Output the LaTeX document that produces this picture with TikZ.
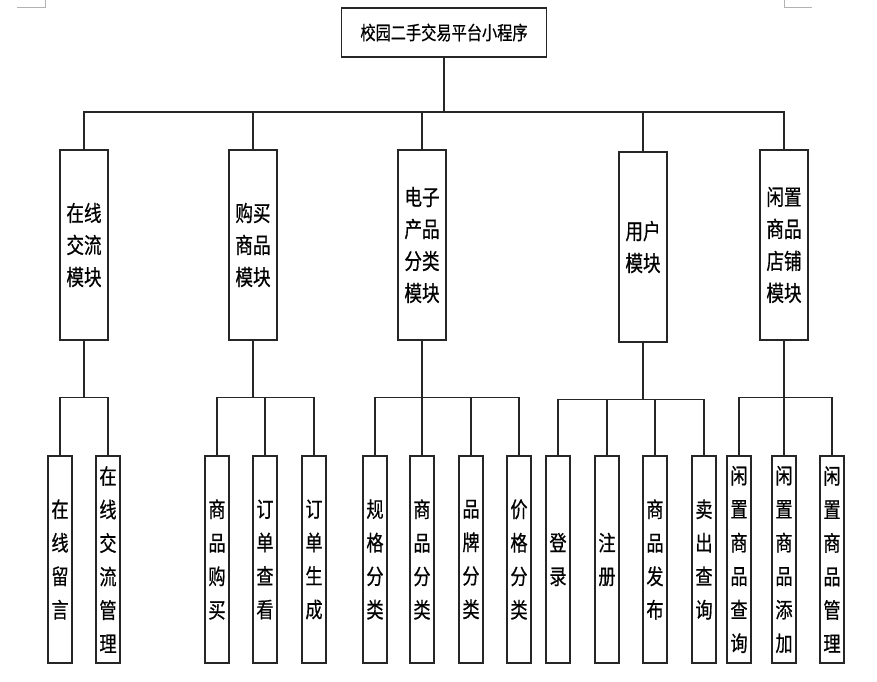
\documentclass[tikz,border=0pt]{standalone}
\usepackage{fontspec}
\newfontfamily\cjkfont[FakeStretch=0.8, FakeBold=0.6]{Noto Sans CJK SC}
\usetikzlibrary{positioning}

\begin{document}
\begin{tikzpicture}[
        x=1pt, y=-1pt,
        box/.style={draw=black!85, line width=1.2pt, fill=white, inner sep=0pt, align=center},
        rootbox/.style={box, minimum width=205pt, minimum height=49pt, font=\cjkfont\fontsize{19}{22}\selectfont},
        modbox/.style={box, minimum width=48pt, minimum height=190pt, font=\cjkfont\fontsize{22}{32}\selectfont},
        leafbox/.style={box, minimum width=24pt, minimum height=207pt, font=\cjkfont\fontsize{21.5}{33.5}\selectfont},
        link/.style={draw=black!85, line width=1.2pt},
        cropline/.style={draw=black!30, line width=0.8pt}
    ]
        \useasboundingbox (0,0) rectangle (877,681);
        \draw[cropline] (17,7) -- (45,7) -- (45,0);
        \draw[cropline] (784,0) -- (784,7) -- (812,7);

        \node[rootbox] (root) at (444, 32.5) {校园二手交易平台小程序};

        \node[modbox] (chat) at (84, 245) {在线\\交流\\模块};
        \node[modbox] (buy) at (253, 245) {购买\\商品\\模块};
        \node[modbox] (elec) at (422, 245) {电子\\产品\\分类\\模块};
        \node[modbox] (user) at (643, 247) {用户\\模块};
        \node[modbox] (idle) at (784, 245) {闲置\\商品\\店铺\\模块};

        \node[leafbox] (chatmsg) at (60, 559.5) {在\\线\\留\\言};
        \node[leafbox] (chatmgr) at (108, 559.5) {在\\线\\交\\流\\管\\理};
        \node[leafbox] (buygoods) at (217, 559.5) {商\\品\\购\\买};
        \node[leafbox] (buyview) at (265, 559.5) {订\\单\\查\\看};
        \node[leafbox] (buymake) at (314, 559.5) {订\\单\\生\\成};
        \node[leafbox] (elecspec) at (375, 559.5) {规\\格\\分\\类};
        \node[leafbox] (elecgoods) at (422, 559.5) {商\\品\\分\\类};
        \node[leafbox] (elecbrand) at (471, 559.5) {品\\牌\\分\\类};
        \node[leafbox] (elecprice) at (519, 559.5) {价\\格\\分\\类};
        \node[leafbox] (userlogin) at (558, 559.5) {登\\录};
        \node[leafbox] (userreg) at (607, 559.5) {注\\册};
        \node[leafbox] (userpost) at (655, 559.5) {商\\品\\发\\布};
        \node[leafbox] (usersold) at (704, 559.5) {卖\\出\\查\\询};
        \node[leafbox] (idlefind) at (739, 559.5) {闲\\置\\商\\品\\查\\询};
        \node[leafbox] (idleadd) at (784, 559.5) {闲\\置\\商\\品\\添\\加};
        \node[leafbox] (idlemgr) at (832, 559.5) {闲\\置\\商\\品\\管\\理};

        % root to modules
        \coordinate (rootbus) at (444, 112);
        \draw[link] (root) -- (rootbus);
        \foreach \m in {chat,buy,elec,user,idle}
            \draw[link] (rootbus) -| (\m.north);

        % modules to leaves
        \foreach \p/\kids in {chat/{chatmsg,chatmgr}, buy/{buygoods,buyview,buymake},
                elec/{elecspec,elecgoods,elecbrand,elecprice},
                user/{userlogin,userreg,userpost,usersold}, idle/{idlefind,idleadd,idlemgr}} {
            \path (\p.south) ++(0,57) coordinate (\p bus);
            \draw[link] (\p) -- (\p bus);
            \foreach \k in \kids
                \draw[link] (\p bus) -| (\k.north);
        }
    \end{tikzpicture}
\end{document}
